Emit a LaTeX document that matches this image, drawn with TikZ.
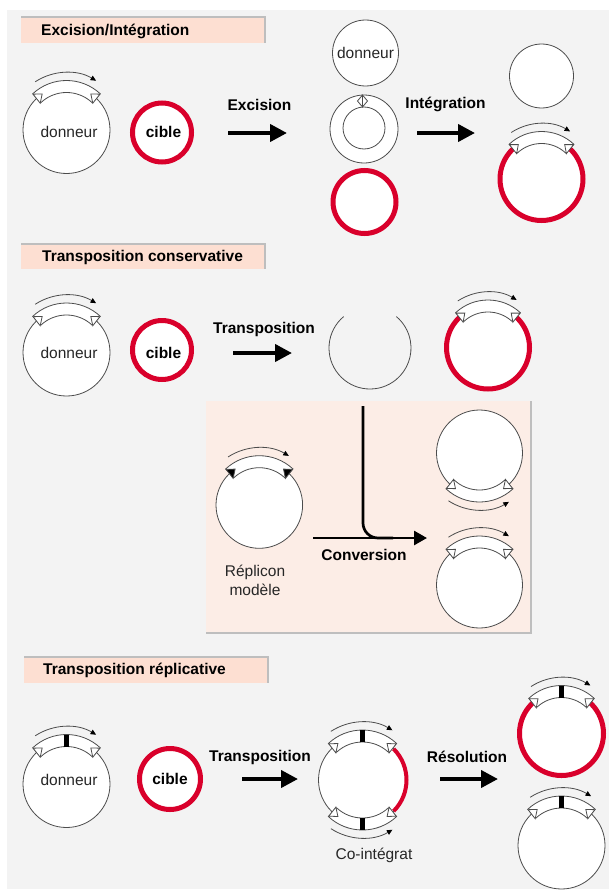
\documentclass[tikz,border=0pt]{standalone}
\usepackage{fontspec}
\setmainfont{Liberation Sans}
\usepackage{tikz}
\usetikzlibrary{arrows.meta}
\usetikzlibrary{calc}

\definecolor{cibred}{RGB}{217,0,43}
\definecolor{fond}{RGB}{243,243,243}
\definecolor{titre}{RGB}{253,223,210}
\definecolor{encadre}{RGB}{252,237,230}
\definecolor{bord}{RGB}{190,190,190}

\tikzset{
  fin/.style={draw=black!70,line width=0.8pt},
  plasmide/.style={circle,fin,fill=white,inner sep=0pt,minimum size=#1},
  cibring/.style={circle,draw=cibred,line width=5pt,fill=white,inner sep=0pt,minimum size=#1},
  txt/.style={font=\fontsize{15.5}{18}\selectfont,text=black!85,inner sep=0pt},
  txtb/.style={font=\fontsize{15.5}{18}\selectfont\bfseries,inner sep=0pt},
  fleche/.style={line width=4pt,-{Triangle[length=17pt,width=17pt]}},
  petitefleche/.style={fin,-{Triangle[length=5.5pt,width=5pt,color=black]}},
}

\newcommand{\transposon}[3][]{%
  \begin{scope}[#1]
    \filldraw[fin,fill=white] (133:{#2+6}) arc[start angle=133,end angle=47,radius={#2+6}] -- (47:{#2-6}) arc[start angle=47,end angle=133,radius={#2-6}] -- cycle;
    \filldraw[fin,fill=#3] (133:{#2+5.5}) -- (124:#2) -- (134.5:{#2-6}) -- cycle;
    \filldraw[fin,fill=#3] (47:{#2+5.5}) -- (56:#2) -- (45.5:{#2-6}) -- cycle;
    \draw[petitefleche] (123:{#2+14}) arc[start angle=123,end angle=59,radius={#2+14}];
  \end{scope}}
\newcommand{\barre}[2][]{\fill[black,#1] (-2.5,{#2-6}) rectangle (2.5,{#2+6});}

\begin{document}
\begin{tikzpicture}[x=1pt,y=1pt]
\useasboundingbox (0,0) rectangle (609,-891);
\fill[fond] (7,-10) rectangle (609,-889);

\fill[titre] (21,-18) rectangle (264,-43);
\draw[bord,line width=1.5pt] (21,-17) -- (265,-17) -- (265,-43);
\node[txtb,anchor=west] (titre1) at (41,-31) {Excision/Intégration};

\node[plasmide=87] (donneur1) at (66.5,-130) {};
\transposon[shift={(donneur1.center)}]{43.5}{white}
\node[txt] (don1txt) at (69,-131.5) {donneur};
\node[cibring=59] (cible1) at (162,-132.5) {};
\node[txtb] (cib1txt) at (163.5,-131.7) {cible};

\coordinate (excA) at (228,-133); \coordinate (excB) at (287,-133);
\draw[fleche] (excA) -- (excB);
\node[txtb] (exctxt) at (259.5,-105) {Excision};

\node[plasmide=66] (donneurlib) at (365.5,-53) {};
\node[txt] (donlibtxt) at (365.5,-53) {donneur};
\node[plasmide=68] (anneau) at (364,-129) {};
\node[plasmide=42] (anneauint) at (364,-128) {};
\draw[fin,fill=white] (362.5,-95) -- (357.5,-101) -- (362.5,-107) -- (367.5,-101) -- cycle;
\draw[fin] (362.5,-95) -- (362.5,-107);
\node[cibring=63] (ciblelib) at (364.5,-202) {};

\coordinate (intA) at (417,-133); \coordinate (intB) at (475,-133);
\draw[fleche] (intA) -- (intB);
\node[txtb] (inttxt) at (445.5,-104) {Intégration};

\node[plasmide=64] (donneurvide) at (541.5,-76) {};
\node[cibring=83] (cibleint) at (541.5,-179) {};
\transposon[shift={(cibleint.center)}]{41.5}{white}

\fill[titre] (21,-245) rectangle (264,-269);
\draw[bord,line width=1.5pt] (21,-244) -- (265,-244) -- (265,-269);
\node[txtb,anchor=west] (titre2) at (42,-257.5) {Transposition conservative};

\node[plasmide=87] (donneur2) at (66.5,-352.5) {};
\transposon[shift={(donneur2.center)}]{43.5}{white}
\node[txt] (don2txt) at (69,-352.7) {donneur};
\node[cibring=59] (cible2) at (162,-350) {};
\node[txtb] (cib2txt) at (163.5,-352.7) {cible};

\coordinate (trcA) at (233,-353); \coordinate (trcB) at (292,-353);
\draw[fleche] (trcA) -- (trcB);
\node[txtb] (trctxt) at (264,-329) {Transposition};

\coordinate (ouvert) at (370,-348);
\draw[fin] (ouvert) ++(130:41) arc[start angle=130,end angle=410,radius=41];
\node[cibring=83] (ciblecons) at (488,-347.5) {};
\transposon[shift={(ciblecons.center)}]{41.5}{white}

\fill[encadre] (206,-401) rectangle (531,-633);
\draw[bord,line width=1.5pt] (531,-401) -- (531,-633) -- (206,-633);

\node[plasmide=86.6] (replicon) at (259.3,-505) {};
\transposon[shift={(replicon.center)}]{43.3}{black}
\node[txt] (reptxt) at (255,-572) {Réplicon};
\node[txt] (modtxt) at (255,-590) {modèle};

\coordinate (convhaut) at (363,-406); \coordinate (convcoin) at (363,-538);
\coordinate (convgauche) at (313,-538); \coordinate (convdroite) at (427,-538);
\draw[line width=2.7pt,rounded corners=15pt] (convhaut) -- (convcoin) -- ($(convcoin)+(30,0)$);
\draw[line width=2.7pt,-{Triangle[length=13pt,width=14pt]}] (convgauche) -- (convdroite);
\node[txtb] (convtxt) at (364,-555) {Conversion};

\node[plasmide=86] (produithaut) at (479.5,-453) {};
\transposon[shift={(produithaut.center)},yscale=-1]{43}{white}
\node[plasmide=86] (produitbas) at (479.5,-585) {};
\transposon[shift={(produitbas.center)}]{43}{white}

\fill[titre] (24,-658) rectangle (267,-683);
\draw[bord,line width=1.5pt] (24,-657) -- (268,-657) -- (268,-683);
\node[txtb,anchor=west] (titre3) at (43,-670.5) {Transposition réplicative};

\node[plasmide=87] (donneur3) at (66.5,-784) {};
\transposon[shift={(donneur3.center)}]{43.5}{white}
\barre[shift={(donneur3.center)}]{43.5}
\node[txt] (don3txt) at (69,-780) {donneur};
\node[cibring=61] (cible3) at (170,-779) {};
\node[txtb] (cib3txt) at (170,-779.3) {cible};

\coordinate (trrA) at (242,-779); \coordinate (trrB) at (298,-779);
\draw[fleche] (trrA) -- (trrB);
\node[txtb] (trrtxt) at (260,-757) {Transposition};

\node[plasmide=88] (cointegrat) at (362.5,-780) {};
\draw[draw=cibred,line width=4pt] (cointegrat.center) ++(-45:44) arc[start angle=-45,end angle=45,radius=44];
\transposon[shift={(cointegrat.center)}]{44}{white}
\barre[shift={(cointegrat.center)}]{44}
\transposon[shift={(cointegrat.center)},yscale=-1]{44}{white}
\barre[shift={(cointegrat.center)},yscale=-1]{44}
\node[txt] (cointtxt) at (374,-855) {Co-intégrat};

\coordinate (resA) at (440,-779); \coordinate (resB) at (498,-779);
\draw[fleche] (resA) -- (resB);
\node[txtb] (restxt) at (467,-757) {Résolution};

\node[cibring=84] (cibleres) at (561.5,-733.5) {};
\transposon[shift={(cibleres.center)}]{42}{white}
\barre[shift={(cibleres.center)}]{42}
\node[plasmide=87] (donneurres) at (561.5,-845.5) {};
\transposon[shift={(donneurres.center)}]{43.5}{white}
\barre[shift={(donneurres.center)}]{43.5}
\end{tikzpicture}
\end{document}
